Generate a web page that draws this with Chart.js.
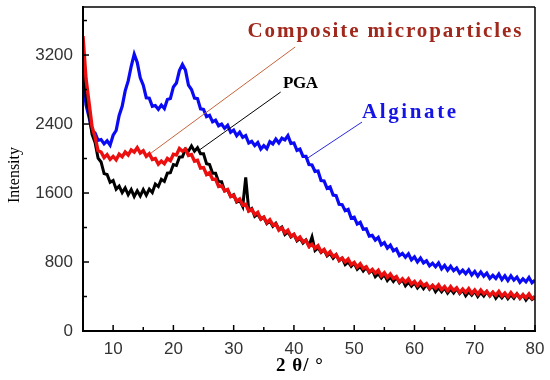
<!DOCTYPE html>
<html>
<head>
<meta charset="utf-8">
<script src="https://cdn.jsdelivr.net/npm/chart.js@4.4.1/dist/chart.umd.min.js"></script>
<style>
  html, body { margin: 0; padding: 0; background: #fff; }
  #wrap { width: 550px; height: 380px; position: relative; }
</style>
</head>
<body>
<div id="wrap"><canvas id="c"></canvas></div>
<script>
// 2θ positions (degrees), step 0.5 from 5 to 80
const twoTheta = [];
for (let i = 0; i <= 150; i++) twoTheta.push(5 + i * 0.5);

const alginate = [
2970,2620,2480,2320,2295,2210,2220,2170,2205,2155,
2270,2325,2500,2605,2785,2900,3070,3210,3115,2935,
2850,2705,2700,2605,2615,2570,2620,2580,2685,2695,
2830,2875,3020,3090,3025,2850,2800,2700,2695,2575,
2570,2485,2500,2425,2445,2380,2400,2350,2385,2305,
2330,2265,2305,2245,2265,2180,2200,2150,2185,2110,
2150,2115,2195,2170,2225,2180,2235,2215,2265,2175,
2180,2095,2110,2025,2025,1930,1925,1850,1855,1745,
1740,1655,1670,1575,1570,1470,1465,1395,1410,1310,
1320,1240,1260,1180,1185,1100,1110,1055,1085,1000,
1025,960,995,930,950,875,900,855,895,825,
860,800,845,790,815,755,785,745,790,720,
760,705,750,700,730,670,705,665,710,650,
690,635,685,635,670,610,645,610,660,595,
640,585,640,590,625,565,605,570,620,560,
590
];

const pga = [
3280,2720,2520,2280,2185,2005,1960,1825,1815,1725,
1745,1645,1680,1605,1660,1580,1640,1560,1625,1565,
1640,1575,1645,1605,1705,1675,1760,1735,1830,1835,
1930,1920,2015,2020,2110,2085,2145,2085,2125,2055,
2055,1940,1930,1830,1830,1730,1730,1625,1635,1560,
1580,1495,1515,1445,1780,1400,1420,1330,1355,1295,
1320,1245,1275,1215,1250,1180,1205,1120,1150,1090,
1120,1045,1075,1020,1055,990,1090,935,965,910,
940,870,900,845,885,815,845,770,800,750,
785,715,750,695,735,675,705,630,665,615,
655,585,625,575,620,560,595,525,565,520,
560,500,540,490,540,485,525,455,500,455,
500,440,485,440,490,435,475,410,455,415,
460,400,445,405,455,405,445,380,425,385,
430,375,420,380,430,380,420,360,405,365,
390
];

const composite = [
3420,2925,2650,2370,2250,2090,2075,2010,2045,1990,
2025,1985,2050,2020,2075,2040,2100,2075,2125,2065,
2090,2025,2055,1990,2000,1935,1970,1940,2000,1975,
2050,2040,2115,2085,2110,2035,2045,1970,1980,1890,
1895,1815,1835,1760,1760,1675,1685,1625,1640,1560,
1575,1505,1530,1460,1470,1390,1410,1350,1375,1300,
1320,1255,1290,1230,1240,1170,1195,1140,1170,1100,
1120,1060,1090,1035,1050,980,1005,960,990,920,
945,885,920,865,885,820,845,800,835,770,
795,740,780,725,745,685,715,670,705,640,
675,620,660,610,630,570,605,565,605,545,
575,525,570,525,550,495,530,495,535,480,
515,465,515,470,500,445,485,445,490,435,
475,425,475,430,460,410,450,415,460,405,
440,395,445,400,430,380,420,385,430,375,
400
];

const xTicks = [10, 20, 30, 40, 50, 60, 70, 80];
const xMinorTicks = [15, 25, 35, 45, 55, 65, 75];
const yTicks = [0, 800, 1600, 2400, 3200];
const yMinorTicks = [400, 1200, 2000, 2800, 3600];

const seriesNames = ['Composite microparticles', 'PGA', 'Alginate'];
// annotation label anchors [2θ, intensity] and leader lines [[x1,y1],[x2,y2]]
const labelAnchors = [[32.3, 3467], [38.2, 2864], [51.3, 2527]];
const leaderLines = [
  [[40.2, 3293], [16.3, 2064]],
  [[37.8, 2771], [24.3, 2098]],
  [[51.3, 2423], [42.3, 2006]]
];

const toXY = arr => arr.map((v, i) => ({ x: twoTheta[i], y: v }));

function seg(ctx, x1, y1, x2, y2, w, color) {
  ctx.strokeStyle = color;
  ctx.lineWidth = w;
  ctx.beginPath();
  ctx.moveTo(x1, y1);
  ctx.lineTo(x2, y2);
  ctx.stroke();
}

const annotPlugin = {
  id: 'annot',
  afterDraw(chart) {
    const ctx = chart.ctx;
    const x = chart.scales.x, y = chart.scales.y;
    const L = x.getPixelForValue(5), R = x.getPixelForValue(80);
    const B = y.getPixelForValue(0), T = y.getPixelForValue(3757);
    ctx.save();
    // plot frame
    seg(ctx, L, T, R, T, 1.5, '#000');
    seg(ctx, R, T, R, B, 1.5, '#000');
    seg(ctx, L, T - 1, L, B + 1, 2, '#000');
    seg(ctx, L - 1, B, R + 1, B, 2, '#000');
    // inward ticks
    xTicks.forEach(v => { const p = x.getPixelForValue(v); seg(ctx, p, B, p, B - 6, 1.5, '#000'); });
    xMinorTicks.forEach(v => { const p = x.getPixelForValue(v); seg(ctx, p, B, p, B - 4, 1.5, '#000'); });
    yTicks.forEach(v => { const p = y.getPixelForValue(v); seg(ctx, L, p, L + 6, p, 1.5, '#000'); });
    yMinorTicks.forEach(v => { const p = y.getPixelForValue(v); seg(ctx, L, p, L + 4, p, 1.5, '#000'); });

    // leader lines
    const lineColors = ['rgb(200,100,60)', '#000', 'rgb(40,40,220)'];
    leaderLines.forEach((ln, i) => {
      seg(ctx, x.getPixelForValue(ln[0][0]), y.getPixelForValue(ln[0][1]),
               x.getPixelForValue(ln[1][0]), y.getPixelForValue(ln[1][1]), 1, lineColors[i]);
    });

    // labels
    const txtColors = ['rgb(160,40,28)', '#000', 'rgb(20,20,230)'];
    const widths = [274, 35, 94];
    const sizes = [21, 17, 21];
    seriesNames.forEach((t, i) => {
      ctx.font = 'bold ' + sizes[i] + 'px "Liberation Serif"';
      ctx.letterSpacing = '0px';
      const w0 = ctx.measureText(t).width;
      const ls = (widths[i] - w0) / (t.length - 1);
      ctx.letterSpacing = ls.toFixed(2) + 'px';
      ctx.fillStyle = txtColors[i];
      ctx.textBaseline = 'middle';
      ctx.textAlign = 'left';
      ctx.fillText(t, x.getPixelForValue(labelAnchors[i][0]), y.getPixelForValue(labelAnchors[i][1]));
    });
    ctx.letterSpacing = '0px';

    // axis titles
    ctx.fillStyle = '#000';
    ctx.font = '16px "Liberation Serif"';
    ctx.textAlign = 'center';
    ctx.textBaseline = 'middle';
    ctx.save();
    ctx.translate(15, 175);
    ctx.rotate(-Math.PI / 2);
    ctx.fillText('Intensity', 0, 0);
    ctx.restore();
    ctx.font = 'bold 19px "Liberation Serif"';
    ctx.letterSpacing = '1px';
    ctx.fillText('2 θ/ °', 300, 366);
    ctx.letterSpacing = '0px';
    ctx.restore();
  }
};

new Chart(document.getElementById('c'), {
  type: 'line',
  data: {
    datasets: [
      { label: seriesNames[0], data: toXY(composite), borderColor: 'rgb(235,15,15)', borderWidth: 3.4, order: 1 },
      { label: seriesNames[1], data: toXY(pga), borderColor: '#000', borderWidth: 3, order: 2 },
      { label: seriesNames[2], data: toXY(alginate), borderColor: 'rgb(10,10,245)', borderWidth: 3.2, order: 3 }
    ]
  },
  options: {
    responsive: true,
    maintainAspectRatio: false,
    animation: false,
    events: [],
    elements: { point: { radius: 0 }, line: { tension: 0 } },
    layout: { padding: { left: 0, top: 7, right: 15, bottom: 0 } },
    plugins: { legend: { display: false }, tooltip: { enabled: false } },
    scales: {
      x: {
        type: 'linear', min: 5, max: 80,
        grid: { display: false }, border: { display: false },
        afterBuildTicks: s => { s.ticks = xTicks.map(v => ({ value: v })); },
        afterFit: s => { s.height = 49; s.paddingLeft = 0; s.paddingRight = 0; },
        ticks: { color: '#333', padding: 0, maxRotation: 0, callback: v => String(v), font: { family: 'Liberation Sans', size: 17 } }
      },
      y: {
        type: 'linear', min: 0, max: 3757,
        grid: { display: false }, border: { display: false },
        afterBuildTicks: s => { s.ticks = yTicks.map(v => ({ value: v })); },
        afterFit: s => { s.width = 83; s.paddingTop = 0; s.paddingBottom = 0; },
        ticks: { color: '#333', padding: 2, callback: v => String(v), font: { family: 'Liberation Sans', size: 17 } }
      }
    }
  },
  plugins: [annotPlugin]
});
</script>
</body>
</html>
